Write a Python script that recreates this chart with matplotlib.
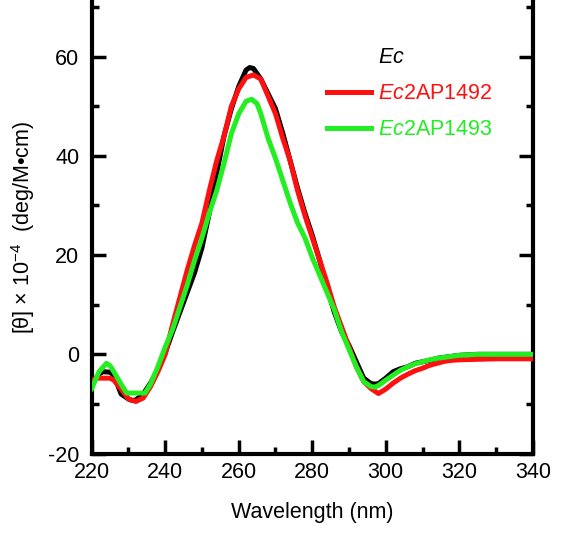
import matplotlib
matplotlib.use("Agg")
import matplotlib.pyplot as plt
from matplotlib.lines import Line2D
from matplotlib.ticker import MultipleLocator

plt.rcParams['font.family'] = ['Liberation Sans', 'DejaVu Sans']
plt.rcParams['mathtext.fontset'] = 'custom'
plt.rcParams['mathtext.rm'] = 'Liberation Sans'
plt.rcParams['mathtext.it'] = 'Liberation Sans:italic'
plt.rcParams['axes.unicode_minus'] = False

# ---- data ----
wl_ec = [220, 222, 223, 225, 226, 228, 230, 231, 232, 234, 236, 238, 240, 242, 244, 246, 248, 250,
         252, 254, 256, 258, 260, 262, 263, 264, 266, 268, 270, 272, 274, 276, 278, 280, 282, 284,
         286, 288, 290, 292, 294, 296, 297, 298, 300, 302, 304, 306, 308, 310, 312, 314, 316, 318,
         320, 325, 330, 335, 340]
cd_ec = [-6.0, -4.0, -3.5, -3.6, -4.2, -8.0, -9.0, -9.3, -9.2, -8.0, -5.8, -3.0, 0.3, 4.5, 8.5, 12.5,
         16.5, 21.5, 28.5, 36.5, 44.0, 49.5, 54.0, 57.3, 57.8, 57.6, 55.5, 52.5, 49.5, 44.5, 39.0,
         33.5, 28.5, 24.0, 19.0, 13.5, 8.5, 4.5, 1.8, -1.5, -4.8, -5.9, -6.0, -5.9, -4.8, -3.5, -2.9,
         -2.5, -1.8, -1.5, -1.2, -0.8, -0.6, -0.4, -0.2, 0.0, 0.0, 0.0, 0.0]

wl_1492 = [220, 221, 225, 226, 228, 230, 232, 234, 236, 238, 240, 242, 244, 246, 248, 250, 252, 254,
           256, 258, 260, 262, 264, 266, 268, 270, 272, 274, 276, 278, 280, 282, 284, 286, 288, 290,
           292, 294, 296, 298, 300, 302, 304, 306, 308, 310, 312, 314, 316, 318, 320, 325, 330, 335, 340]
cd_1492 = [-5.5, -4.8, -4.8, -5.2, -7.0, -9.0, -9.5, -8.8, -6.5, -3.5, 0.0, 6.0, 11.5, 17.0, 22.0,
           26.5, 33.0, 39.0, 44.0, 50.0, 53.5, 55.8, 56.3, 55.5, 52.0, 48.5, 43.5, 39.0, 33.0, 28.0,
           23.5, 19.0, 14.5, 9.5, 5.5, 1.5, -2.5, -5.5, -6.9, -7.9, -7.0, -5.8, -4.8, -4.0, -3.3,
           -2.8, -2.2, -1.8, -1.4, -1.2, -1.1, -1.0, -0.9, -0.9, -0.9]

wl_1493 = [220, 222, 224, 225, 226, 228, 229.5, 234.5, 236, 238, 240, 242, 244, 246, 248, 250, 252,
           254, 256, 258, 260, 262, 263.5, 265, 266, 268, 270, 272, 274, 276, 278, 280, 282, 284, 286,
           288, 290, 292, 294, 296, 297, 298, 300, 302, 304, 306, 308, 310, 312, 314, 316, 318, 320,
           325, 330, 335, 340]
cd_1493 = [-6.9, -3.5, -1.8, -2.3, -3.5, -6.0, -7.8, -7.8, -6.0, -2.5, 1.5, 5.0, 9.5, 14.0, 19.0,
           23.5, 28.5, 33.0, 38.5, 44.5, 48.5, 51.0, 51.4, 50.5, 48.5, 43.5, 39.5, 35.0, 30.5, 26.5,
           23.5, 19.5, 16.0, 12.5, 9.0, 4.5, 1.0, -2.5, -5.5, -6.5, -6.6, -6.3, -5.2, -4.2, -3.2,
           -2.5, -1.9, -1.5, -1.1, -0.8, -0.6, -0.4, -0.2, 0.0, 0.0, 0.0, 0.0]

labels = [r'$\mathit{Ec}$', r'$\mathit{Ec}$2AP1492', r'$\mathit{Ec}$2AP1493']
colors = ['black', '#ff1010', '#22ee22']
xticks = [220, 240, 260, 280, 300, 320, 340]
yticks = [-20, 0, 20, 40, 60]

# ---- figure ----
fig = plt.figure(figsize=(5.62, 5.33), dpi=100)
ax = fig.add_axes([0.1632, 0.149, 0.7848, 0.8500])

lw = 3.6
ax.plot(wl_ec, cd_ec, color=colors[0], lw=lw, zorder=2)
ax.plot(wl_1492, cd_1492, color=colors[1], lw=lw, zorder=3)
ax.plot(wl_1493, cd_1493, color=colors[2], lw=lw, zorder=4)

fs = 15.5
ax.set_xlim(220, 340)
ax.set_ylim(-20, 71.3)
ax.set_xticks(xticks)
ax.set_yticks(yticks)
ax.xaxis.set_minor_locator(MultipleLocator(10))
ax.yaxis.set_minor_locator(MultipleLocator(10))
ax.tick_params(which='both', direction='in', left=True, right=True, bottom=True, top=False,
               width=2.5, labelsize=fs, colors='black')
ax.tick_params(which='major', length=10)
ax.tick_params(which='minor', length=5)
ax.tick_params(axis='x', which='major', pad=6)
ax.tick_params(axis='y', which='major', pad=9)
for s in ['left', 'right', 'bottom']:
    ax.spines[s].set_linewidth(3)
ax.spines['top'].set_visible(False)

ax.set_xlabel('Wavelength (nm)', fontsize=fs, labelpad=14)
ax.set_ylabel(r'[θ] × 10$^{-4}$  (deg/M•cm)', fontsize=fs, labelpad=8)

handles = [Line2D([], [], color='none', lw=lw),
           Line2D([], [], color=colors[1], lw=lw),
           Line2D([], [], color=colors[2], lw=lw)]
ax.legend(handles, labels, loc='upper left', bbox_to_anchor=(0.533, 0.8976), frameon=False,
          fontsize=fs, handlelength=2.05, handletextpad=0.33, labelspacing=0.71,
          borderpad=0, borderaxespad=0, labelcolor=colors)

fig.savefig('out.png', dpi=100)
